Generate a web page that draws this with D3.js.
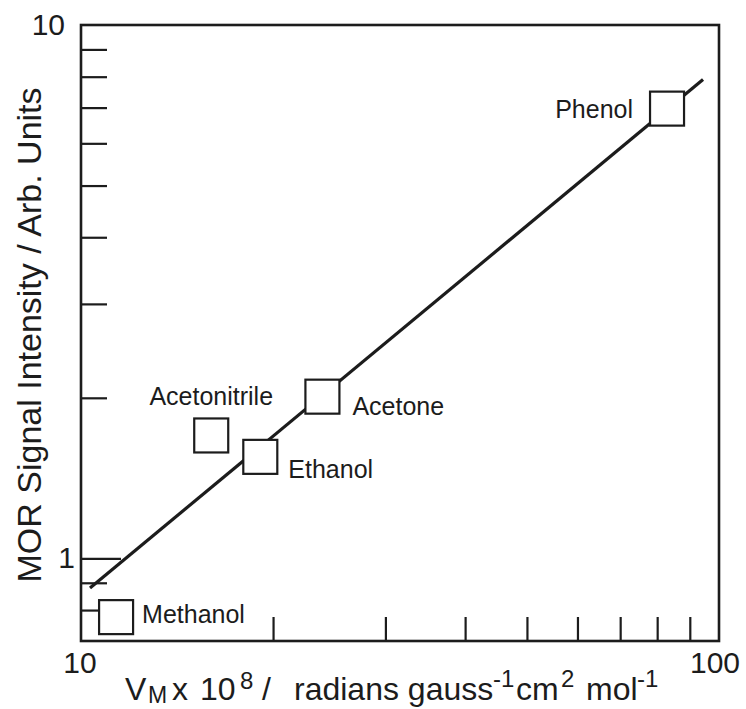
<!DOCTYPE html>
<html>
<head>
<meta charset="utf-8">
<script src="https://cdn.jsdelivr.net/npm/d3@7"></script>
<style>
  body { margin: 0; background: #fff; }
  svg { display: block; font-family: "Liberation Sans", Arial, Helvetica, sans-serif; }
</style>
</head>
<body>
<div id="chart"></div>
<script>
// compounds (x: V_M x 10^8, y: MOR signal)
const names = ['Methanol', 'Acetonitrile', 'Ethanol', 'Acetone', 'Phenol'];
const vm = [11.35, 16.0, 19.1, 23.9, 82.9];
const signal = [0.776, 1.70, 1.55, 2.01, 6.97];

// fitted straight line (log-log), two end points
const fitX = [10.33, 94.4];
const fitY = [0.88, 7.9];

const xTickLabels = [10, 100];
const xMinorTicks = [20, 30, 40, 50, 60, 70, 80, 90];
const yTickLabels = [1, 10];
const yMinorTicks = [0.8, 0.9, 2, 3, 4, 5, 6, 7, 8, 9];

const width = 746, height = 709;
const margin = {top: 25, right: 27, bottom: 68, left: 81};
const w = width - margin.left - margin.right;
const h = height - margin.top - margin.bottom;
const ink = '#1c1c1c';

const svg = d3.select('#chart')
  .append('svg')
  .attr('width', width)
  .attr('height', height);

const g = svg.append('g')
  .attr('transform', `translate(${margin.left},${margin.top})`);

const x = d3.scaleLog().domain([10, 100]).range([0, w]);
const y = d3.scaleLog().domain([0.7, 10]).range([h, 0]);

// ticks point inward
const xAxis = g.append('g')
  .attr('transform', `translate(0,${h})`)
  .call(d3.axisBottom(x).tickValues(xMinorTicks).tickSize(-24).tickFormat(''));
xAxis.select('.domain').remove();
xAxis.selectAll('line').attr('stroke', ink).attr('stroke-width', 2.2);

const yAxis = g.append('g')
  .call(d3.axisLeft(y).tickValues(yMinorTicks).tickSize(-26).tickFormat(''));
yAxis.select('.domain').remove();
yAxis.selectAll('line').attr('stroke', ink).attr('stroke-width', 2.2);

const yMajor = g.append('g')
  .call(d3.axisLeft(y).tickValues([1]).tickSize(-40).tickFormat(''));
yMajor.select('.domain').remove();
yMajor.selectAll('line').attr('stroke', ink).attr('stroke-width', 2.2);

// frame
g.append('rect')
  .attr('width', w)
  .attr('height', h)
  .attr('fill', 'none')
  .attr('stroke', ink)
  .attr('stroke-width', 2.6);

// tick labels
g.selectAll('.xlab')
  .data(xTickLabels)
  .enter().append('text')
  .attr('x', (d, i) => x(d) + (i === 0 ? -1 : -4))
  .attr('y', h + 32)
  .attr('text-anchor', 'middle')
  .attr('font-size', 30)
  .attr('fill', ink)
  .text(d => d);

g.selectAll('.ylab')
  .data(yTickLabels)
  .enter().append('text')
  .attr('x', d => d === 10 ? -16 : -6)
  .attr('y', d => y(d) + 10)
  .attr('text-anchor', 'end')
  .attr('font-size', 30)
  .attr('fill', ink)
  .text(d => d);

// fit line
const line = d3.line()
  .x(d => x(d[0]))
  .y(d => y(d[1]));

g.append('path')
  .datum(fitX.map((d, i) => [d, fitY[i]]))
  .attr('d', line)
  .attr('fill', 'none')
  .attr('stroke', ink)
  .attr('stroke-width', 3.2);

// open squares
const sq = 34;
const pts = names.map((n, i) => ({name: n, vm: vm[i], s: signal[i]}));

g.selectAll('.pt')
  .data(pts)
  .enter().append('rect')
  .attr('x', d => x(d.vm) - sq / 2)
  .attr('y', d => y(d.s) - sq / 2)
  .attr('width', sq)
  .attr('height', sq)
  .attr('fill', '#fff')
  .attr('stroke', ink)
  .attr('stroke-width', 2.2);

// labels next to the squares
const labelPos = {
  Methanol: {dx: 26, dy: 6, anchor: 'start'},
  Acetonitrile: {dx: 0, dy: -30, anchor: 'middle'},
  Ethanol: {dx: 28, dy: 21, anchor: 'start'},
  Acetone: {dx: 30, dy: 18, anchor: 'start'},
  Phenol: {dx: -34, dy: 9, anchor: 'end'}
};

g.selectAll('.lbl')
  .data(pts)
  .enter().append('text')
  .attr('x', d => x(d.vm) + labelPos[d.name].dx)
  .attr('y', d => y(d.s) + labelPos[d.name].dy)
  .attr('text-anchor', d => labelPos[d.name].anchor)
  .attr('font-size', 25)
  .attr('fill', ink)
  .text(d => d.name);

// axis titles (x title laid out piece by piece like the original)
const xt = svg.append('text')
  .attr('y', 700)
  .attr('font-size', 32)
  .attr('fill', ink)
  .style('white-space', 'pre');
const parts = [
  {t: 'V', x: 125, dy: 0},
  {t: 'M', x: 148, dy: 3, fs: 23},
  {t: 'x', x: 172, dy: -3},
  {t: '10', x: 200},
  {t: '8', x: 240, dy: -11, fs: 24},
  {t: '/', x: 262, dy: 11},
  {t: 'radians gauss', x: 294},
  {t: '-1', x: 493, dy: -13, fs: 24},
  {t: 'cm', x: 516, dy: 13},
  {t: '2', x: 561, dy: -13, fs: 24},
  {t: 'mol', x: 586, dy: 13},
  {t: '-1', x: 637, dy: -13, fs: 24}
];
parts.forEach(p => {
  const ts = xt.append('tspan').attr('x', p.x).text(p.t);
  if (p.dy) ts.attr('dy', p.dy);
  if (p.fs) ts.attr('font-size', p.fs);
});

svg.append('text')
  .attr('transform', 'translate(41,335) rotate(-90)')
  .attr('text-anchor', 'middle')
  .attr('font-size', 34)
  .attr('fill', ink)
  .text('MOR Signal Intensity / Arb. Units');
</script>
</body>
</html>
